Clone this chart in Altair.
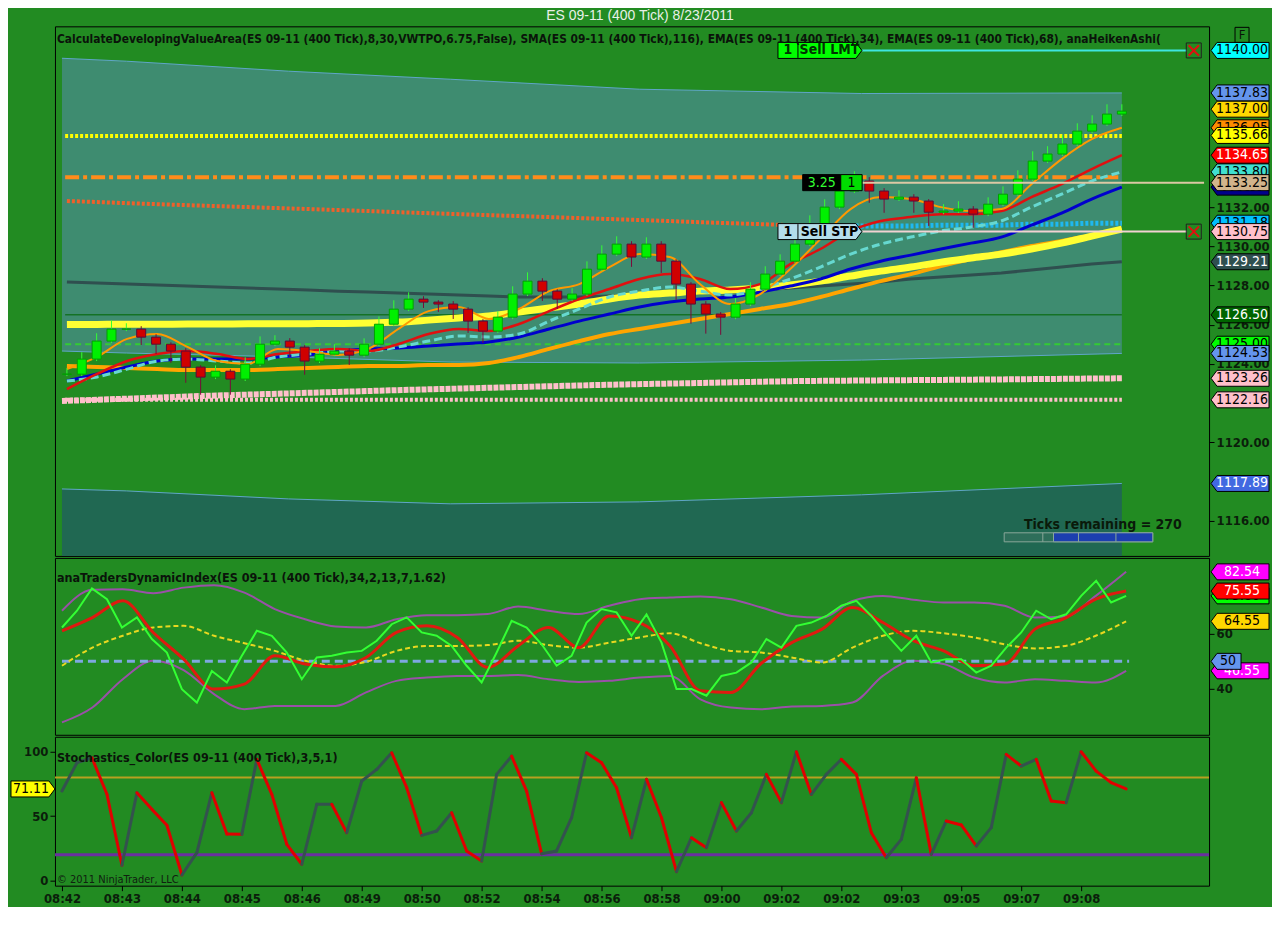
import altair as alt
import numpy as np
import pandas as pd

# ---------------- text ----------------
TITLE = "ES 09-11 (400 Tick)  8/23/2011"
MAIN_LABEL = ("CalculateDevelopingValueArea(ES 09-11  (400 Tick),8,30,VWTPO,6.75,False),  SMA(ES 09-11  (400 Tick),116),  "
              "EMA(ES 09-11  (400 Tick),34),  EMA(ES 09-11  (400 Tick),68),  anaHeikenAshi(")
TDI_LABEL = "anaTradersDynamicIndex(ES 09-11 (400 Tick),34,2,13,7,1.62)"
STO_LABEL = "Stochastics_Color(ES 09-11 (400 Tick),3,5,1)"
COPYRIGHT = "\u00a9 2011 NinjaTrader, LLC"
TICKS_TEXT = "Ticks remaining = 270"
time_labels = ["08:42", "08:43", "08:44", "08:45", "08:46", "08:49", "08:50", "08:52", "08:54",
               "08:56", "08:58", "09:00", "09:02", "09:02", "09:03", "09:05", "09:07", "09:08"]

# ---------------- price panel data ----------------
closes = [1123.47, 1124.24, 1125.16, 1125.77, 1125.77, 1125.36, 1125.00, 1124.65, 1123.83, 1123.32,
          1123.62, 1123.22, 1123.98, 1125.00, 1125.16, 1124.85, 1124.14, 1124.49, 1124.65, 1124.44,
          1125.00, 1126.02, 1126.79, 1127.30, 1127.15, 1127.05, 1126.79, 1126.18, 1125.67, 1126.38,
          1127.56, 1128.22, 1127.71, 1127.30, 1127.56, 1128.83, 1129.60, 1130.11, 1129.45, 1130.11,
          1129.24, 1128.07, 1127.05, 1126.54, 1126.38, 1127.05, 1127.81, 1128.58, 1129.24, 1130.11,
          1131.13, 1132.00, 1132.82, 1133.33, 1132.82, 1132.41, 1132.51, 1132.31, 1131.74, 1131.80,
          1131.90, 1131.64, 1132.15, 1132.66, 1133.43, 1134.35, 1134.71, 1135.22, 1135.88, 1136.24,
          1136.75, 1136.90]
wick_up = [0.3, 0.35, 0.4, 0.45, 0.3, 0.15, 0.15, 0.1, 0.15, 0.1,
           0.3, 0.1, 0.35, 0.4, 0.3, 0.15, 0.1, 0.3, 0.35, 0.15,
           0.3, 0.4, 0.45, 0.35, 0.15, 0.1, 0.15, 0.1, 0.1, 0.3,
           0.4, 0.45, 0.15, 0.1, 0.3, 0.4, 0.45, 0.4, 0.15, 0.35,
           0.15, 0.1, 0.1, 0.15, 0.1, 0.3, 0.35, 0.4, 0.35, 0.4,
           0.45, 0.4, 0.45, 0.5, 0.2, 0.15, 0.35, 0.15, 0.1, 0.35,
           0.4, 0.15, 0.35, 0.4, 0.45, 0.5, 0.4, 0.45, 0.4, 0.45,
           0.5, 0.35]
wick_dn = [0.1, 0.1, 0.1, 0.1, 0.1, 0.4, 0.5, 0.6, 0.8, 0.9,
           0.1, 0.8, 0.1, 0.1, 0.1, 0.5, 0.7, 0.1, 0.1, 0.5,
           0.1, 0.1, 0.1, 0.1, 0.3, 0.4, 0.5, 0.6, 0.6, 0.1,
           0.1, 0.1, 0.5, 0.5, 0.1, 0.1, 0.1, 0.1, 0.5, 0.1,
           0.6, 0.8, 1.0, 1.0, 0.9, 0.1, 0.1, 0.1, 0.1, 0.1,
           0.1, 0.1, 0.1, 0.1, 0.6, 0.7, 0.1, 0.6, 0.7, 0.1,
           0.1, 0.7, 0.1, 0.1, 0.1, 0.1, 0.1, 0.1, 0.1, 0.1,
           0.1, 0.1]
ema_fast = [1123.73, 1124.35, 1125.27, 1125.52, 1124.86, 1124.14, 1123.99, 1124.76, 1124.65, 1124.45,
            1124.76, 1125.78, 1126.69, 1126.90, 1126.29, 1126.80, 1127.71, 1128.07, 1128.94, 1129.60,
            1129.45, 1128.07, 1127.05, 1127.56, 1128.84, 1130.37, 1131.90, 1132.51, 1132.41, 1132.00,
            1131.80, 1131.90, 1133.17, 1134.45, 1135.47, 1136.05]
ema_red = [1122.71, 1123.48, 1124.14, 1124.50, 1124.65, 1124.50, 1124.24, 1124.50, 1124.65, 1124.76,
           1124.65, 1125.01, 1125.52, 1125.78, 1125.67, 1126.03, 1126.69, 1127.31, 1127.82, 1128.33,
           1128.58, 1128.33, 1127.82, 1128.07, 1129.09, 1129.86, 1130.78, 1131.29, 1131.49, 1131.64,
           1131.64, 1131.80, 1132.51, 1133.17, 1133.94, 1134.65]
ema_turq = [1123.12, 1123.33, 1123.73, 1124.14, 1124.24, 1124.14, 1124.04, 1124.35, 1124.50, 1124.65,
            1124.65, 1124.86, 1125.16, 1125.42, 1125.37, 1125.52, 1126.18, 1126.80, 1127.41, 1127.71,
            1127.92, 1127.71, 1127.51, 1127.82, 1128.33, 1128.94, 1129.60, 1130.11, 1130.47, 1130.78,
            1130.98, 1131.29, 1132.00, 1132.66, 1133.33, 1133.80]
ema_blue = [1123.12, 1123.48, 1123.84, 1124.14, 1124.24, 1124.24, 1124.24, 1124.35, 1124.45, 1124.65,
            1124.76, 1124.81, 1124.91, 1125.01, 1125.11, 1125.37, 1125.78, 1126.18, 1126.54, 1126.90,
            1127.15, 1127.31, 1127.41, 1127.66, 1127.97, 1128.33, 1128.84, 1129.24, 1129.55, 1129.86,
            1130.16, 1130.47, 1131.08, 1131.69, 1132.41, 1133.02]
sma_orange = [1123.89, 1123.84, 1123.79, 1123.73, 1123.68, 1123.68, 1123.68, 1123.73, 1123.79, 1123.84,
              1123.89, 1123.89, 1123.94, 1123.94, 1124.04, 1124.35, 1124.76, 1125.16, 1125.52, 1125.78,
              1126.03, 1126.29, 1126.54, 1126.80, 1127.05, 1127.41, 1127.82, 1128.22, 1128.58, 1128.99,
              1129.35, 1129.70, 1130.01, 1130.27, 1130.57, 1130.83]
sma_yellow = [1126.00, 1126.01, 1126.02, 1126.02, 1126.03, 1126.03, 1126.04, 1126.04, 1126.05, 1126.06,
              1126.08, 1126.13, 1126.23, 1126.34, 1126.44, 1126.64, 1126.85, 1127.05, 1127.31, 1127.51,
              1127.61, 1127.71, 1127.77, 1127.87, 1128.02, 1128.22, 1128.48, 1128.73, 1128.94, 1129.19,
              1129.40, 1129.60, 1129.86, 1130.16, 1130.52, 1130.88]
slate_line = [1128.17, 1128.12, 1128.07, 1128.02, 1127.97, 1127.92, 1127.87, 1127.82, 1127.77, 1127.71,
              1127.66, 1127.61, 1127.56, 1127.51, 1127.46, 1127.41, 1127.41, 1127.41, 1127.46, 1127.51,
              1127.56, 1127.61, 1127.66, 1127.77, 1127.87, 1127.97, 1128.07, 1128.17, 1128.33, 1128.43,
              1128.53, 1128.63, 1128.79, 1128.94, 1129.09, 1129.21]
dev_line = [1132.31, 1132.26, 1132.20, 1132.15, 1132.10, 1132.05, 1132.00, 1131.95, 1131.90, 1131.85,
            1131.80, 1131.74, 1131.69, 1131.64, 1131.59, 1131.54, 1131.49, 1131.44, 1131.39, 1131.34,
            1131.29, 1131.23, 1131.18, 1131.13, 1131.08, 1131.03, 1131.03, 1131.03, 1131.03, 1131.08,
            1131.08, 1131.08, 1131.13, 1131.13, 1131.18, 1131.18]
DEV_SPLIT = 26
va_s = [-0.083, 1.0, 3.73, 6.45, 9.63, 13.37, 17.75]
va_high = [1139.60, 1139.45, 1138.94, 1138.53, 1138.02, 1137.80, 1137.83]
va_low = [1124.65, 1124.55, 1124.35, 1124.09, 1124.04, 1124.19, 1124.53]
va_ext = [1117.61, 1117.51, 1117.10, 1116.85, 1116.95, 1117.31, 1117.89]
pink_s = [-0.083, 2.3, 5.63, 8.97, 12.3, 15.63, 17.75]
pink_rise = [1122.10, 1122.36, 1122.66, 1122.92, 1123.12, 1123.20, 1123.26]
flat_levels = {"poc": 1135.63, "dashdot": 1133.52, "darkgreen": 1126.50, "greendash": 1125.00, "pinkflat": 1122.16}

tags_back = [(1136.05, "#FF8C00", "#000000"), (1133.80, "#40E0D0", "#000000"), (1133.02, "#00008B", "#FFFFFF"),
             (1131.18, "#00BFFF", "#000000"), (1125.00, "#00FF00", "#000000")]
tags_front = [(1140.00, "#00FFFF", "#000000"), (1137.83, "#6495ED", "#000000"), (1137.00, "#FFD700", "#000000"),
              (1135.66, "#FFFF00", "#000000"), (1134.65, "#FF0000", "#FFFFFF"), (1133.25, "#D2B48C", "#000000"),
              (1130.75, "#FFC0CB", "#000000"), (1129.21, "#2F4F4F", "#FFFFFF"), (1126.50, "#006400", "#FFFFFF"),
              (1124.53, "#6495ED", "#000000"), (1123.26, "#FFC0CB", "#000000"), (1122.16, "#FFC0CB", "#000000"),
              (1117.89, "#4169E1", "#FFFFFF")]
main_ticks = [1116, 1120, 1124, 1126, 1128, 1130, 1132]

LMT_PRICE, STP_PRICE, POS_PRICE, POS_PNL = 1140.00, 1130.75, 1133.25, "3.25"

# ---------------- TDI data ----------------
tdi_upper = [68.4, 76.0, 76.2, 74.8, 76.8, 77.7, 75.0, 69.0, 65.3, 62.7,
             62.3, 65.3, 66.8, 66.8, 67.2, 69.9, 68.4, 67.2, 70.2, 72.6,
             73.2, 73.6, 72.6, 69.6, 66.5, 65.9, 72.0, 73.8, 72.4, 71.4,
             71.4, 70.2, 65.9, 66.3, 73.8, 82.54]
tdi_lower = [27.8, 33.2, 43.5, 50.2, 46.8, 38.1, 32.6, 33.8, 33.8, 33.8,
             38.7, 42.9, 44.1, 44.7, 44.7, 45.0, 43.5, 42.5, 42.9, 44.1,
             44.7, 36.2, 33.2, 32.6, 33.6, 33.8, 35.0, 44.7, 50.2, 49.0,
             44.1, 42.3, 43.5, 42.9, 42.3, 46.55]
tdi_mid = [48.4, 55.0, 59.3, 62.3, 62.9, 59.3, 56.6, 53.8, 50.2, 48.4,
           49.8, 53.8, 55.6, 55.6, 55.9, 57.5, 55.9, 55.0, 56.8, 58.7,
           60.2, 56.6, 53.8, 53.2, 51.4, 49.6, 55.0, 59.3, 61.1, 60.2,
           58.7, 56.2, 54.7, 55.6, 59.3, 64.55]
tdi_signal = [61.1, 65.9, 72.0, 60.5, 50.8, 39.9, 41.7, 52.0, 49.0, 48.0,
              51.4, 60.5, 62.9, 58.7, 47.8, 55.6, 62.3, 55.0, 66.5, 64.1,
              55.6, 39.3, 38.7, 49.3, 56.8, 61.7, 69.6, 64.1, 57.5, 53.8,
              48.4, 49.0, 61.7, 65.7, 72.6, 75.55]
tdi_rsi = [62.3, 68.4, 76.5, 72.6, 62.3, 66.0, 58.1, 53.2, 39.9, 35.0,
           46.5, 42.3, 52.0, 61.1, 59.3, 53.2, 43.5, 51.4, 52.0, 53.2,
           53.8, 57.5, 63.5, 66.0, 60.5, 59.3, 55.6, 48.4, 42.3, 53.2,
           64.7, 62.3, 56.2, 48.4, 52.0, 64.1, 69.0, 67.8, 59.3, 67.1,
           56.8, 39.9, 39.9, 37.5, 44.7, 45.9, 49.6, 58.1, 55.0, 62.9,
           64.1, 66.5, 70.2, 72.0, 66.5, 59.9, 53.8, 59.3, 49.6, 50.8,
           50.8, 45.9, 48.4, 55.0, 60.5, 68.4, 65.3, 67.1, 73.8, 79.3,
           71.4, 73.8]
tdi_tags_back = [(73.80, "#00FF00", "#000000"), (46.55, "#FF00FF", "#FFFFFF")]
tdi_tags_front = [(82.54, "#FF00FF", "#FFFFFF"), (75.55, "#FF0000", "#FFFFFF"), (64.55, "#FFD700", "#000000")]
tdi_mid_tag = (50, "#6495ED", "#000000")
tdi_ticks = [40, 60]

# ---------------- Stochastics data ----------------
stoch = [69.5, 91.5, 95.3, 67.0, 11.9, 68.2, 55.3, 43.0, 4.4, 21.7,
         68.2, 36.2, 35.9, 94.1, 66.9, 28.2, 12.7, 59.2, 59.2, 37.2,
         77.3, 86.3, 99.2, 72.1, 35.1, 38.5, 52.7, 23.0, 15.2, 82.4,
         96.6, 69.5, 20.9, 23.0, 48.8, 99.2, 91.5, 72.1, 33.3, 78.6,
         48.8, 7.0, 33.3, 25.6, 60.5, 38.5, 52.7, 82.4, 60.5, 100.0,
         66.9, 82.4, 94.1, 82.4, 37.2, 17.8, 32.0, 79.8, 20.4, 46.3,
         43.2, 26.9, 41.1, 97.9, 88.9, 94.1, 61.8, 60.5, 100.0, 85.0,
         76.0, 71.11]
sto_levels = [80, 20]
sto_tag = (71.11, "#FFFF00", "#000000")

# ---------------- layout constants ----------------
FONT_N = "Liberation Sans Narrow, Arial Narrow, DejaVu Sans Condensed, sans-serif"
PLOT_W = 1155
MAIN_H, TDI_H, STO_H = 530, 177, 149
XS = alt.Scale(domain=[-0.117, 19.133], nice=False, zero=False)
MAIN_DOM = [1114.19, 1141.23]
TDI_DOM = [23.3, 87.6]
STO_DOM = [-3.9, 111.6]
TAG_X = PLOT_W + 31
TAG_TX = PLOT_W + 33
UNIT = 8.0          # symbol size 256 -> 1 path unit = 8 px
SYM_SIZE = 256

s_fine = np.arange(len(closes)) * 0.25
s_coarse = np.linspace(0, 17.75, len(ema_red))


def tag_path(w, left=True):
    a = w / 2 / UNIT
    t = a - 6 / UNIT
    if left:
        return f"M{-a:.3f},0L{-t:.3f},-1L{a:.3f},-1L{a:.3f},1L{-t:.3f},1Z"
    return f"M{a:.3f},0L{t:.3f},-1L{-a:.3f},-1L{-a:.3f},1L{t:.3f},1Z"


def arrow_box(w):
    a = w / 2 / UNIT
    t = a - 6 / UNIT
    return f"M{-a:.3f},-1L{t:.3f},-1L{a:.3f},0L{t:.3f},1L{-a:.3f},1Z"


main_axis = alt.Axis(orient="right", values=main_ticks, format=".2f", title=None, tickSize=5, labelPadding=2)
tdi_axis = alt.Axis(orient="right", values=tdi_ticks, title=None, tickSize=5, labelPadding=2)
sto_axis = alt.Axis(orient="left", values=[0, 50, 100], title=None, tickSize=5, labelPadding=2)
label_expr = "[" + ",".join("'" + t + "'" for t in time_labels) + "][datum.value]"
sto_xaxis = alt.Axis(values=list(range(len(time_labels))), labelExpr=label_expr, title=None,
                     tickSize=5, labelPadding=2)


def mX(f="s"):
    return alt.X(f"{f}:Q", scale=XS, axis=None)


def sX(f="s"):
    return alt.X(f"{f}:Q", scale=XS, axis=sto_xaxis)


def mY(f="v"):
    return alt.Y(f"{f}:Q", scale=alt.Scale(domain=MAIN_DOM, nice=False, zero=False), axis=main_axis)


def tY(f="v"):
    return alt.Y(f"{f}:Q", scale=alt.Scale(domain=TDI_DOM, nice=False, zero=False), axis=tdi_axis)


def sY(f="v"):
    return alt.Y(f"{f}:Q", scale=alt.Scale(domain=STO_DOM, nice=False, zero=False), axis=sto_axis)


def ldf(xs, vals):
    return pd.DataFrame({"s": list(xs), "v": list(vals)})


def mline(xs, vals, **kw):
    return alt.Chart(ldf(xs, vals)).mark_line(**kw).encode(x=mX(), y=mY())


def flat(v, **kw):
    return mline([-0.03, 17.75], [v, v], **kw)


def tags_layers(rows, Y, w, x_shape, x_text, left=True, fs=14):
    df = pd.DataFrame(rows, columns=["v", "bg", "fg"])
    df["txt"] = [("%.2f" % v) if w > 40 else str(int(v)) for v in df["v"]]
    shp = alt.Chart(df).mark_point(shape=tag_path(w, left), size=SYM_SIZE, filled=True, opacity=1,
                                   stroke="#000000", strokeWidth=1).encode(
        x=alt.value(x_shape), y=Y(), fill=alt.Fill("bg:N", scale=None))
    txt = alt.Chart(df).mark_text(font=FONT_N, fontSize=fs, align="center", baseline="middle").encode(
        x=alt.value(x_text), y=Y(), text="txt:N", color=alt.Color("fg:N", scale=None))
    return [shp, txt]


# ---------------- main panel ----------------
va_df = pd.DataFrame({"s": va_s, "v": va_high, "v2": va_low})
ext_df = pd.DataFrame({"s": va_s, "v": va_ext, "v2": [MAIN_DOM[0]] * len(va_s)})
va_area = alt.Chart(va_df).mark_area(color="#3e8c70", opacity=1).encode(x=mX(), y=mY(), y2="v2:Q")
ext_area = alt.Chart(ext_df).mark_area(color="#206852", opacity=1).encode(x=mX(), y=mY(), y2="v2:Q")
va_lines = [mline(va_s, va_high, color="#5fa6c8", strokeWidth=1),
            mline(va_s, va_low, color="#5fa6c8", strokeWidth=1),
            mline(va_s, va_ext, color="#5fa6c8", strokeWidth=1)]

opens = [closes[0]] + closes[:-1]
cdf = pd.DataFrame({"s": s_fine, "o": opens, "c": closes})
cdf["up"] = cdf["c"] >= cdf["o"]
cdf["hi"] = np.maximum(cdf["o"], cdf["c"]) + np.array(wick_up)
cdf["lo"] = np.minimum(cdf["o"], cdf["c"]) - np.array(wick_dn)
cdf["bc"] = np.where(cdf["up"], "#00f000", "#d00000")
cdf["sc"] = np.where(cdf["up"], "#00a000", "#5a0a3a")
cdf["wc"] = np.where(cdf["up"], "#33ff33", "#7a0a3a")
wicks = alt.Chart(cdf).mark_rule(strokeWidth=1).encode(x=mX(), y=mY("lo"), y2="hi:Q",
                                                        color=alt.Color("wc:N", scale=None))
bodies = alt.Chart(cdf).mark_bar(size=9, strokeWidth=1, opacity=1).encode(
    x=mX(), y=mY("o"), y2="c:Q", fill=alt.Fill("bc:N", scale=None), stroke=alt.Stroke("sc:N", scale=None))

dev_a = mline(s_coarse[:DEV_SPLIT + 1], dev_line[:DEV_SPLIT + 1], color="#f0602a", strokeWidth=4, strokeDash=[3, 2])
dev_b = mline(s_coarse[DEV_SPLIT:], dev_line[DEV_SPLIT:], color="#1fb8f0", strokeWidth=5, strokeDash=[3, 2])

# orders / position
LBL_S, LBL_W = 12.67, 84
odf = pd.DataFrame({"s": [LBL_S, LBL_S], "v": [LMT_PRICE, STP_PRICE], "bg": ["#00FF00", "#B4DDEB"],
                    "fg": ["#003300", "#000000"], "t": ["Sell LMT", "Sell STP"], "q": ["1", "1"],
                    "qs": [12.13, 12.13], "ts": [12.83, 12.83], "ds": [12.30, 12.30]})
odf["v1"] = odf["v"] - 0.38
odf["v2"] = odf["v"] + 0.38
order_box = alt.Chart(odf).mark_point(shape=arrow_box(LBL_W), size=SYM_SIZE, filled=True, opacity=1,
                                      stroke="#000000", strokeWidth=1).encode(
    x=mX(), y=mY(), fill=alt.Fill("bg:N", scale=None))
order_div = alt.Chart(odf).mark_rule(color="#000000", strokeWidth=1).encode(x=mX("ds"), y=mY("v1"), y2="v2:Q")
order_q = alt.Chart(odf).mark_text(font=FONT_N, fontSize=14, fontWeight="bold", align="center",
                                   baseline="middle").encode(x=mX("qs"), y=mY(), text="q:N",
                                                             color=alt.Color("fg:N", scale=None))
order_t = alt.Chart(odf).mark_text(font=FONT_N, fontSize=14, fontWeight="bold", align="center",
                                   baseline="middle").encode(x=mX("ts"), y=mY(), text="t:N",
                                                             color=alt.Color("fg:N", scale=None))
olines = pd.DataFrame({"s": [13.38, 13.38, 13.38], "s2": [18.84, 18.84, 19.133],
                       "v": [LMT_PRICE, STP_PRICE, POS_PRICE], "c": ["#3ee6e0", "#f2d2d2", "#dcc8a4"]})
order_lines = alt.Chart(olines).mark_rule(strokeWidth=2).encode(x=mX(), x2="s2:Q", y=mY(),
                                                                color=alt.Color("c:N", scale=None))
xdf = pd.DataFrame({"s": [18.96, 18.96], "v": [LMT_PRICE, STP_PRICE]})
x_box = alt.Chart(xdf).mark_point(shape="square", size=225, filled=False, stroke="#202020", strokeWidth=1,
                                  opacity=1).encode(x=mX(), y=mY())
x_cross = alt.Chart(xdf).mark_point(shape="M-0.7,-0.7L0.7,0.7M-0.7,0.7L0.7,-0.7", size=225, filled=False,
                                    stroke="#e01010", strokeWidth=2, opacity=1).encode(x=mX(), y=mY())
pdf = pd.DataFrame({"s": [12.38, 13.02], "s2": [13.02, 13.38], "v": [POS_PRICE - 0.41] * 2,
                    "v2": [POS_PRICE + 0.41] * 2, "bg": ["#000000", "#00dd00"],
                    "ts": [12.70, 13.20], "vm": [POS_PRICE] * 2, "t": [POS_PNL, "1"], "fg": ["#33ff33", "#000000"]})
pos_box = alt.Chart(pdf).mark_rect(stroke="#000000", strokeWidth=1).encode(
    x=mX(), x2="s2:Q", y=mY(), y2="v2:Q", fill=alt.Fill("bg:N", scale=None))
pos_txt = alt.Chart(pdf).mark_text(font=FONT_N, fontSize=14, align="center", baseline="middle").encode(
    x=mX("ts"), y=mY("vm"), text="t:N", color=alt.Color("fg:N", scale=None))

# ticks remaining widget
tr_df = pd.DataFrame({"s": [17.43], "v": [1115.78], "t": [TICKS_TEXT]})
tr_txt = alt.Chart(tr_df).mark_text(font=FONT_N, fontSize=14, fontWeight="bold", color="#0a1a0a",
                                    align="center", baseline="middle").encode(x=mX(), y=mY(), text="t:N")
bar_df = pd.DataFrame({"s": [15.77, 16.60], "s2": [18.27, 18.27], "v": [1114.91] * 2, "v2": [1115.37] * 2,
                       "c": ["#2e6e5a", "#1c3faf"]})
tr_bar = alt.Chart(bar_df).mark_rect(stroke="#8aa89a", strokeWidth=1).encode(
    x=mX(), x2="s2:Q", y=mY(), y2="v2:Q", fill=alt.Fill("c:N", scale=None))
div_df = pd.DataFrame({"s": [16.42, 17.02, 17.65], "v": [1114.91] * 3, "v2": [1115.37] * 3})
tr_div = alt.Chart(div_df).mark_rule(color="#8aa89a", strokeWidth=1).encode(x=mX(), y=mY(), y2="v2:Q")

main_lbl = alt.Chart(pd.DataFrame({"t": [MAIN_LABEL]})).mark_text(
    font=FONT_N, fontSize=11.9, fontWeight="bold", color="#0a140a", align="left", baseline="middle",
    limit=PLOT_W - 2).encode(x=alt.value(2), y=alt.value(13), text="t:N")
f_df = pd.DataFrame({"t": ["F"]})
f_box = alt.Chart(f_df).mark_rect(fill="#228B22", stroke="#000000", strokeWidth=1).encode(
    x=alt.value(PLOT_W + 26), x2=alt.value(PLOT_W + 40), y=alt.value(1), y2=alt.value(16))
f_txt = alt.Chart(f_df).mark_text(font=FONT_N, fontSize=13, color="#0a140a", align="center",
                                  baseline="middle").encode(x=alt.value(PLOT_W + 33), y=alt.value(9), text="t:N")

main_layers = [
    va_area, ext_area, *va_lines,
    flat(flat_levels["pinkflat"], color="#ffc0cb", strokeWidth=4, strokeDash=[3, 2]),
    mline(pink_s, pink_rise, color="#ffc0cb", strokeWidth=6, strokeDash=[5, 1]),
    mline(s_coarse, slate_line, color="#2f4f4f", strokeWidth=3),
    flat(flat_levels["poc"], color="#ffff00", strokeWidth=4, strokeDash=[3, 2]),
    flat(flat_levels["dashdot"], color="#ff8c1a", strokeWidth=4, strokeDash=[14, 4, 4, 4]),
    dev_a, dev_b,
    flat(flat_levels["darkgreen"], color="#006400", strokeWidth=1),
    flat(flat_levels["greendash"], color="#33cc33", strokeWidth=2, strokeDash=[6, 4]),
    mline(s_coarse, sma_orange, color="#ffa500", strokeWidth=4, interpolate="monotone"),
    mline(s_coarse, sma_yellow, color="#ffff33", strokeWidth=7, interpolate="monotone"),
    mline(s_coarse, ema_blue, color="#0000cd", strokeWidth=3, interpolate="monotone"),
    mline(s_coarse, ema_turq, color="#66d8d0", strokeWidth=3, strokeDash=[8, 4], interpolate="monotone"),
    mline(s_coarse, ema_red, color="#e01010", strokeWidth=2.5, interpolate="monotone"),
    mline(s_coarse, ema_fast, color="#ff9900", strokeWidth=2, interpolate="monotone"),
    wicks, bodies,
    order_lines, order_box, order_div, order_q, order_t, pos_box, pos_txt, x_box, x_cross,
    tr_bar, tr_div, tr_txt,
    *tags_layers(tags_back, mY, 58, TAG_X, TAG_TX),
    *tags_layers(tags_front, mY, 58, TAG_X, TAG_TX),
    main_lbl, f_box, f_txt,
]
main = alt.layer(*main_layers).properties(width=PLOT_W, height=MAIN_H)


# ---------------- TDI panel ----------------
def tline(xs, vals, **kw):
    return alt.Chart(ldf(xs, vals)).mark_line(**kw).encode(x=mX(), y=tY())


tdi_lbl = alt.Chart(pd.DataFrame({"t": [TDI_LABEL]})).mark_text(
    font=FONT_N, fontSize=12.5, fontWeight="bold", color="#0a140a", align="left", baseline="middle").encode(
    x=alt.value(2), y=alt.value(20), text="t:N")
tdi_layers = [
    tline(s_coarse, tdi_upper, color="#9a50a8", strokeWidth=2, interpolate="monotone"),
    tline(s_coarse, tdi_lower, color="#9a50a8", strokeWidth=2, interpolate="monotone"),
    tline([0, 17.8], [50, 50], color="#7ea8e0", strokeWidth=3, strokeDash=[8, 5]),
    tline(s_coarse, tdi_mid, color="#e8d820", strokeWidth=2, strokeDash=[5, 3], interpolate="monotone"),
    tline(s_coarse, tdi_signal, color="#e01a10", strokeWidth=3, interpolate="monotone"),
    tline(s_fine, tdi_rsi, color="#33ff33", strokeWidth=2),
    *tags_layers(tdi_tags_back, tY, 58, TAG_X, TAG_TX),
    *tags_layers(tdi_tags_front, tY, 58, TAG_X, TAG_TX),
    *tags_layers([tdi_mid_tag], tY, 30, PLOT_W + 17, PLOT_W + 19),
    tdi_lbl,
]
tdi = alt.layer(*tdi_layers).properties(width=PLOT_W, height=TDI_H)

# ---------------- Stochastics panel ----------------
seg = pd.DataFrame({"s": s_fine[:-1], "v": stoch[:-1], "s2": s_fine[1:], "v2": stoch[1:]})
seg["c"] = np.where(seg["v2"] < seg["v"], "#e00000", "#34524e")
lev = pd.DataFrame({"v": sto_levels, "c": ["#b8a020", "#6a2fa0"], "w": [2, 3]})
sto_lines = alt.Chart(lev).mark_rule().encode(y=sY(), color=alt.Color("c:N", scale=None),
                                              strokeWidth=alt.StrokeWidth("w:Q", scale=None))
sto_seg = alt.Chart(seg).mark_rule(strokeWidth=3, strokeCap="round").encode(
    x=sX(), y=sY(), x2="s2:Q", y2="v2:Q", color=alt.Color("c:N", scale=None))
sto_lbl = alt.Chart(pd.DataFrame({"t": [STO_LABEL]})).mark_text(
    font=FONT_N, fontSize=12.5, fontWeight="bold", color="#0a140a", align="left", baseline="middle").encode(
    x=alt.value(2), y=alt.value(21), text="t:N")
copy_lbl = alt.Chart(pd.DataFrame({"t": [COPYRIGHT]})).mark_text(
    font=FONT_N, fontSize=11, color="#102010", align="left", baseline="middle").encode(
    x=alt.value(2), y=alt.value(143), text="t:N")
sto_layers = [sto_lines, sto_seg, sto_lbl, copy_lbl,
              *tags_layers([sto_tag], sY, 44, -22, -24, left=False)]
sto = alt.layer(*sto_layers).properties(width=PLOT_W, height=STO_H)

chart = alt.vconcat(main, tdi, sto, spacing=0).properties(
    title=alt.TitleParams(TITLE), padding=0
).configure(background="#228B22").configure_view(
    stroke="#000000", strokeWidth=1
).configure_axis(
    labelFont=FONT_N, labelFontSize=13, labelFontWeight="bold", labelColor="#0b1e0b",
    tickColor="#000000", grid=False, domain=False
).configure_title(
    font="Liberation Sans, Arial, sans-serif", fontSize=14, fontWeight="normal", color="#e8f0e8",
    anchor="middle", offset=3
)

chart.save("out.html", embed_options={"renderer": "svg", "actions": False})
